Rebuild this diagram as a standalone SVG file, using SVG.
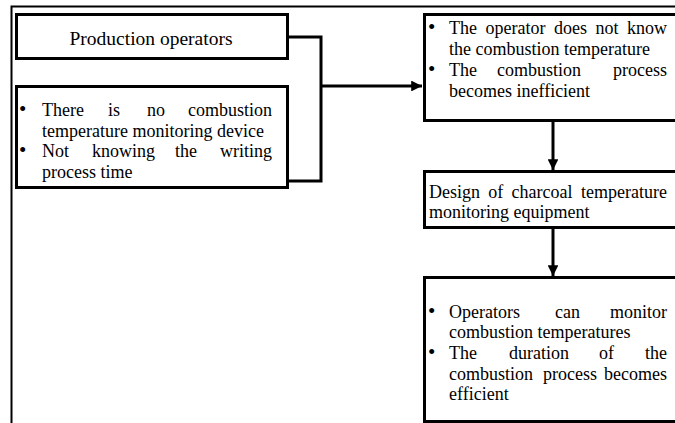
<svg xmlns="http://www.w3.org/2000/svg" width="675" height="423" viewBox="0 0 675 423">
<defs>
<style>
.box{fill:#fff;stroke:#000;stroke-width:3}
.frame{fill:none;stroke:#000;stroke-width:2}
.con{fill:none;stroke:#000;stroke-width:3}
.e{text-anchor:end}
.b{font-size:21px}
</style>
<marker id="ah" viewBox="0 0 10 10" refX="10" refY="5" markerWidth="3.6" markerHeight="3.6" orient="auto" markerUnits="strokeWidth">
<path d="M0,0 L10,5 L0,10 z" fill="#000"/>
</marker>
</defs>
<rect width="675" height="423" fill="#fff"/>
<path class="frame" d="M11.5,423 V6.5 H675"/>
<g id="connectors">
<path class="con" d="M289,37 H321 V181 H289"/>
<path class="con" d="M321,86 H422" marker-end="url(#ah)"/>
<path class="con" d="M553,121 V170" marker-end="url(#ah)"/>
<path class="con" d="M553,229 V276" marker-end="url(#ah)"/>
</g>
<g font-family="'Liberation Serif', 'Times New Roman', serif" font-size="18" fill="#000">
<g id="n1">
<rect class="box" x="16.5" y="14.5" width="271" height="44"/>
<text x="151" y="45" text-anchor="middle" font-size="19.5">Production operators</text>
</g>
<g id="n2">
<rect class="box" x="16.5" y="86.5" width="271" height="101"/>
<text y="116"><tspan x="19" class="b">•</tspan><tspan x="42">There</tspan><tspan x="108">is</tspan><tspan x="147">no</tspan><tspan x="272" class="e">combustion</tspan></text>
<text x="42" y="136.5">temperature monitoring device</text>
<text y="157"><tspan x="19" class="b">•</tspan><tspan x="42">Not</tspan><tspan x="92">knowing</tspan><tspan x="175">the</tspan><tspan x="272" class="e">writing</tspan></text>
<text x="42" y="177.5">process time</text>
</g>
<g id="n3">
<rect class="box" x="424.5" y="14.5" width="262" height="106"/>
<text y="34"><tspan x="428" class="b">•</tspan><tspan x="449">The</tspan><tspan x="485.5">operator</tspan><tspan x="554">does</tspan><tspan x="595.5">not</tspan><tspan x="667" class="e">know</tspan></text>
<text x="449" y="55">the combustion temperature</text>
<text y="76"><tspan x="428" class="b">•</tspan><tspan x="449">The</tspan><tspan x="497">combustion</tspan><tspan x="667" class="e">process</tspan></text>
<text x="449" y="97">becomes inefficient</text>
</g>
<g id="n4">
<rect class="box" x="424.5" y="171.5" width="262" height="56"/>
<text y="198"><tspan x="429">Design</tspan><tspan x="488.3">of</tspan><tspan x="511.6">charcoal</tspan><tspan x="667" class="e">temperature</tspan></text>
<text x="429" y="218">monitoring equipment</text>
</g>
<g id="n5">
<rect class="box" x="424.5" y="277.5" width="262" height="144"/>
<text y="318"><tspan x="428" class="b">•</tspan><tspan x="449">Operators</tspan><tspan x="555">can</tspan><tspan x="667" class="e">monitor</tspan></text>
<text x="449" y="338">combustion temperatures</text>
<text y="359"><tspan x="428" class="b">•</tspan><tspan x="449">The</tspan><tspan x="509">duration</tspan><tspan x="599">of</tspan><tspan x="667" class="e">the</tspan></text>
<text y="379.5"><tspan x="449">combustion</tspan><tspan x="543">process</tspan><tspan x="667" class="e">becomes</tspan></text>
<text x="449" y="400">efficient</text>
</g>
</g>
</svg>
